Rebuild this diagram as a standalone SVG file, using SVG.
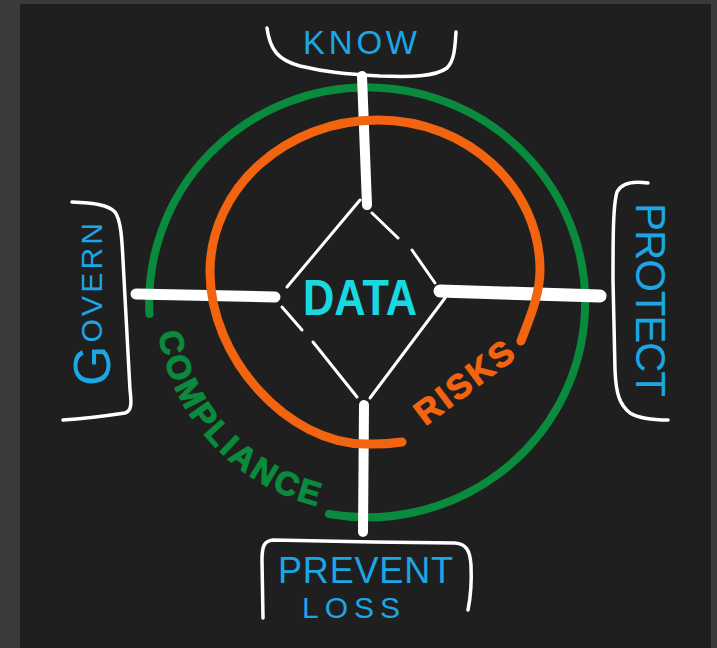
<svg xmlns="http://www.w3.org/2000/svg" width="717" height="648" viewBox="0 0 717 648">
<style>
.bracket{fill:none;stroke:#ffffff;stroke-width:3.5;stroke-linecap:round;stroke-linejoin:round}
.axis{fill:none;stroke:#ffffff;stroke-linecap:round}
.dia{fill:none;stroke:#ffffff;stroke-width:3;stroke-linecap:round}
.lbl{font-family:"Liberation Sans",Arial,sans-serif;fill:#1ba6e6}
.ring-g{fill:none;stroke:#0a8a3c;stroke-width:8;stroke-linecap:round;stroke-linejoin:round}
.ring-o{fill:none;stroke:#f2640f;stroke-width:9;stroke-linecap:round;stroke-linejoin:round}
</style>
<defs>
<path id="compPath" d="M158.6,333.2 A212,212 0 0,0 320.3,506.6"/>
</defs>
<rect x="0" y="0" width="717" height="648" fill="#3b3b3b"/>
<rect x="20" y="4" width="691" height="644" fill="#1f1f1f"/>

<g id="compliance-ring">
<path class="ring-g" d="M149.5,314 A218,215 0 1,1 329,514"/>
<text font-family="'Liberation Sans',Arial,sans-serif" font-weight="bold" font-size="33" fill="#0a8a3c" stroke="#0a8a3c" stroke-width="1.2" stroke-linejoin="round"><textPath href="#compPath" textLength="248" lengthAdjust="spacing">COMPLIANCE</textPath></text>
</g>

<g id="connectors">
<path class="axis" stroke-width="10" d="M362,76 L367,205"/>
<path class="axis" stroke-width="11" d="M136,294 L275,297"/>
<path class="axis" stroke-width="13" d="M440,291 L600,296"/>
<path class="axis" stroke-width="10" d="M364,405 L363,532"/>
</g>

<g id="risks-ring">
<path class="ring-o" d="M521,341 C528,322 540,296 540,270 C540,187 467,120 378,120 C286,120 210,188 210,272 C210,358 288,444 366,444 C380,444.5 395,443 402,442"/>
<text transform="translate(464,382) rotate(-37)" text-anchor="middle" dominant-baseline="central" font-family="'Liberation Sans',Arial,sans-serif" font-weight="bold" font-size="34" fill="#f2640f" stroke="#f2640f" stroke-width="1.2" stroke-linejoin="round" textLength="115" lengthAdjust="spacing">RISKS</text>
</g>

<g id="data">
<path class="dia" d="M360,200 L287,287"/>
<path class="dia" d="M372,213 L398,238 M412,250 L435,283"/>
<path class="dia" d="M282,307 L302,330 M313,342 L357,397"/>
<path class="dia" d="M445,298 L370,398"/>
<text x="303" y="315" font-family="'Liberation Sans',Arial,sans-serif" font-weight="bold" font-size="50" fill="#18d9e0" textLength="114" lengthAdjust="spacingAndGlyphs">DATA</text>
</g>

<g id="know">
<path class="bracket" d="M267,28 C270,50 278,60 300,66 C325,72 345,74 380,76 C410,77 435,77 447,68 C455,60 455,45 456,32"/>
<text class="lbl" x="303" y="54" font-size="33" textLength="114" lengthAdjust="spacing">KNOW</text>
</g>

<g id="govern">
<path class="bracket" d="M72,202 C95,203 108,205 115,212 C121,220 122,240 123,260 L130,390 C132,405 131,411 125,413 C105,416 80,419 63,420"/>
<text class="lbl" transform="translate(110,386) rotate(-90)" textLength="163" lengthAdjust="spacing"><tspan font-size="52">G</tspan><tspan font-size="30" dy="-8">OVERN</tspan></text>
</g>

<g id="protect">
<path class="bracket" d="M648,183 C635,181 622,182 617,192 C613,205 613,240 613,280 L615,370 C616,395 620,405 630,413 C640,419 655,420 668,420"/>
<text class="lbl" transform="translate(636,203) rotate(90)" font-size="42" textLength="194" lengthAdjust="spacing">PROTECT</text>
</g>

<g id="prevent-loss">
<path class="bracket" d="M263,618 L262,560 C262,546 264,541 273,540 L373,542 L455,543 C466,544 470,550 471,565 C472,585 470,600 468,610"/>
<text class="lbl" x="278" y="583" font-size="36" textLength="175" lengthAdjust="spacing">PREVENT</text>
<text class="lbl" x="302" y="618" font-size="30" textLength="98" lengthAdjust="spacing">LOSS</text>
</g>
</svg>
